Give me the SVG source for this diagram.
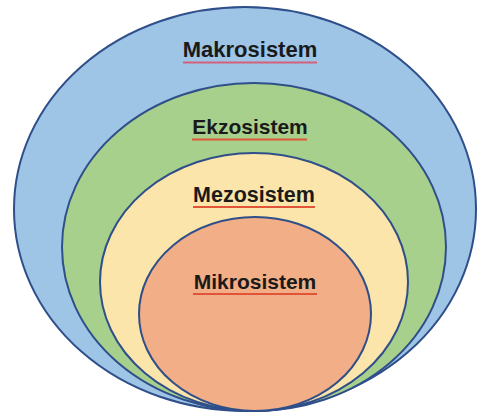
<svg xmlns="http://www.w3.org/2000/svg" width="478" height="413" viewBox="0 0 478 413">
<style>
.ring{stroke:#2f4f8a;stroke-width:2}
.lbl{font-family:"Liberation Sans",Arial,sans-serif;font-weight:bold;fill:#1a1a1a;text-anchor:middle}
.ul{stroke:#e0553a;stroke-width:2}
.ul2{stroke:#d4607a;stroke-width:2}
</style>
<rect width="478" height="413" fill="#ffffff"/>
<g id="makrosistem">
<ellipse class="ring" cx="245" cy="209" rx="231" ry="202" fill="#9ec4e6"/>
<text class="lbl" x="250" y="57" font-size="22">Makrosistem</text>
<line class="ul2" x1="183" y1="62.5" x2="317" y2="62.5"/>
</g>
<g id="ekzosistem">
<ellipse class="ring" cx="254" cy="247" rx="192" ry="164" fill="#a8d08d"/>
<text class="lbl" x="250" y="134" font-size="21">Ekzosistem</text>
<line class="ul" x1="192" y1="139.5" x2="307" y2="139.5"/>
</g>
<g id="mezosistem">
<ellipse class="ring" cx="254" cy="282" rx="154" ry="129" fill="#fbe5aa"/>
<text class="lbl" x="254" y="202" font-size="21.5">Mezosistem</text>
<line class="ul" x1="193" y1="207" x2="315" y2="207"/>
</g>
<g id="mikrosistem">
<ellipse class="ring" cx="255" cy="314" rx="116" ry="97" fill="#f2ae86"/>
<text class="lbl" x="255" y="289" font-size="21">Mikrosistem</text>
<line class="ul" x1="193" y1="294" x2="317" y2="294"/>
</g>
<g id="connectors"/>
</svg>
